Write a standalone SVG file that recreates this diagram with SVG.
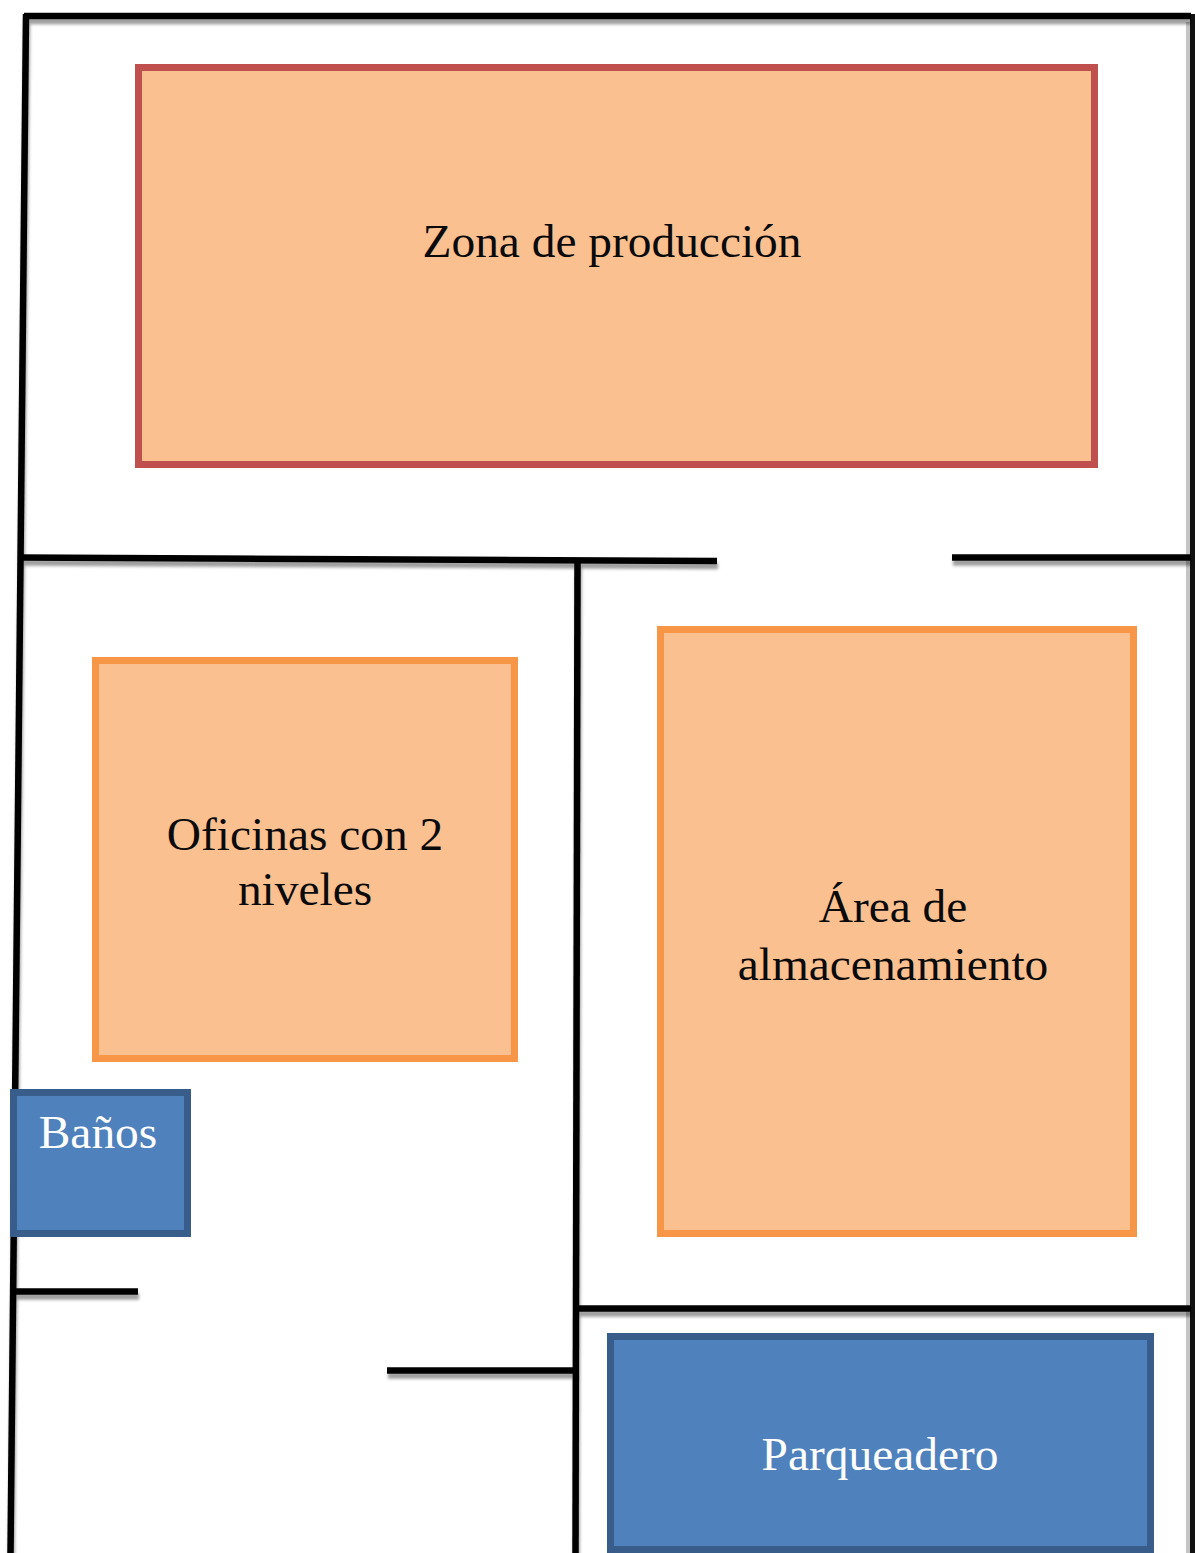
<svg xmlns="http://www.w3.org/2000/svg" width="1195" height="1553" viewBox="0 0 1195 1553">
<defs>
<filter id="soft" x="0" y="0" width="1195" height="1553" filterUnits="userSpaceOnUse" primitiveUnits="userSpaceOnUse">
<feDropShadow dx="1" dy="5" stdDeviation="1.6" flood-color="#000" flood-opacity="0.38"/>
</filter>
</defs>
<style>
.wall{stroke:#020202;stroke-width:6.5;fill:none}
.edge{stroke:#111;stroke-width:5;fill:none}
.halo{stroke:#c4c4c4;stroke-width:4;fill:none}
.orange{fill:#fac090;stroke:#f79646;stroke-width:7}
.red{fill:#fac090;stroke:#c0504d;stroke-width:7}
.blue{fill:#4f81bd;stroke:#385d8a;stroke-width:7}
text{font-family:"Liberation Serif","Times New Roman",serif;font-size:47.4px;text-anchor:middle}
.d{fill:#0a0a0a}.w{fill:#fff}
</style>
<rect width="1195" height="1553" fill="#fff"/>
<g id="connectors">
<path class="halo" d="M1188 22V1553"/>
<path class="edge" d="M1192.500 14V1553"/>
<g filter="url(#soft)">
<path class="wall" d="M1191 16H24"/>
<path class="wall" d="M26 14L10.500 1553"/>
<path class="wall" d="M20 557.500L717 561"/>
<path class="wall" d="M952 557.500H1191"/>
<path class="wall" d="M577.500 561L575.500 1553"/>
<path class="wall" d="M577 1308.500H1191"/>
<path class="wall" d="M14 1291.500H138"/>
<path class="wall" d="M387 1370.500H575"/>
</g>
</g>
<g id="zona"><rect class="red" x="138.500" y="67.500" width="956" height="397"/><text class="d" x="612" y="257">Zona de producción</text></g>
<g id="oficinas"><rect class="orange" x="95.500" y="660.500" width="419" height="398"/><text class="d" x="305" y="850">Oficinas con 2</text><text class="d" x="305" y="905">niveles</text></g>
<g id="almacen"><rect class="orange" x="660.500" y="629.500" width="473" height="604"/><text class="d" x="893" y="922">Área de</text><text class="d" x="893" y="980">almacenamiento</text></g>
<g id="banos"><rect class="blue" x="13.500" y="1092.500" width="174" height="141"/><text class="w" x="98" y="1148">Baños</text></g>
<g id="parqueadero"><rect class="blue" x="610.500" y="1336.500" width="540" height="213"/><text class="w" x="880" y="1470">Parqueadero</text></g>
</svg>
